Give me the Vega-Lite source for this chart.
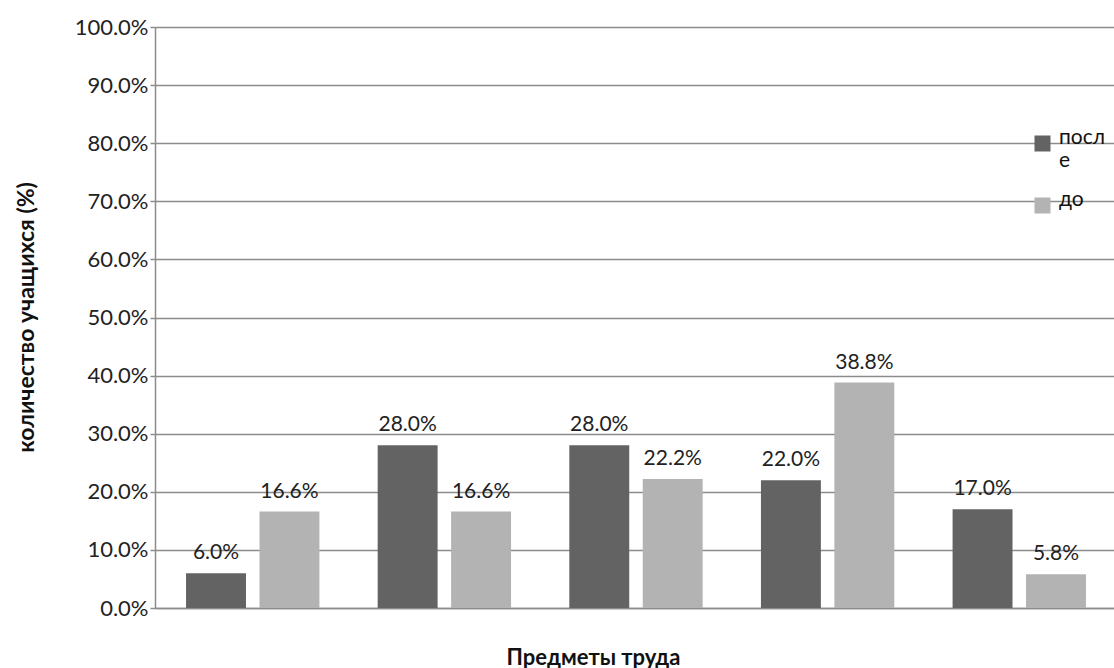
{
  "$schema": "https://vega.github.io/schema/vega-lite/v6.json",
  "autosize": {"type": "none"},
  "width": 962,
  "height": 581,
  "padding": {"left": 155, "top": 27, "right": 0, "bottom": 60},
  "background": "white",
  "config": {
    "font": "Lato",
    "view": {"stroke": null},
    "axis": {"labelFont": "Lato", "titleFont": "Lato"}
  },
  "data": {
    "values": [
      {"group": "1", "series": "после", "value": 0.06},
      {"group": "1", "series": "до", "value": 0.166},
      {"group": "2", "series": "после", "value": 0.28},
      {"group": "2", "series": "до", "value": 0.166},
      {"group": "3", "series": "после", "value": 0.28},
      {"group": "3", "series": "до", "value": 0.222},
      {"group": "4", "series": "после", "value": 0.22},
      {"group": "4", "series": "до", "value": 0.388},
      {"group": "5", "series": "после", "value": 0.17},
      {"group": "5", "series": "до", "value": 0.058}
    ]
  },
  "encoding": {
    "x": {
      "field": "group", "type": "nominal",
      "scale": {"paddingInner": 0.304, "paddingOuter": 0.162},
      "axis": {
        "title": "Предметы труда",
        "titleFontSize": 22, "titleFontWeight": "bold", "titleColor": "#111",
        "titleX": 438, "titleY": 49, "titleBaseline": "middle",
        "labels": false, "ticks": false,
        "domainColor": "#8c8c8c", "domainWidth": 1.5
      }
    },
    "xOffset": {
      "field": "series", "type": "nominal",
      "sort": ["после", "до"],
      "scale": {"paddingInner": 0.184, "paddingOuter": 0}
    },
    "y": {
      "field": "value", "type": "quantitative",
      "scale": {"domain": [0, 1]},
      "axis": {
        "title": "количество учащихся (%)",
        "titleFontSize": 23, "titleFontWeight": "bold", "titleColor": "#111",
        "titleX": -129, "titleY": 290, "titleAngle": -90, "titleBaseline": "middle", "titleAlign": "center",
        "format": ".1%",
        "values": [0, 0.1, 0.2, 0.3, 0.4, 0.5, 0.6, 0.7, 0.8, 0.9, 1.0],
        "labelFontSize": 22, "labelColor": "#222", "labelPadding": 2,
        "tickSize": 5, "tickColor": "#8c8c8c", "tickWidth": 1.5,
        "domainColor": "#8c8c8c", "domainWidth": 1.5,
        "grid": true, "gridColor": "#8c8c8c", "gridWidth": 1.5
      }
    }
  },
  "layer": [
    {
      "mark": {"type": "bar"},
      "encoding": {
        "color": {
          "field": "series", "type": "nominal",
          "sort": ["после", "до"],
          "scale": {"domain": ["после", "до"], "range": ["#636363", "#b3b3b3"]},
          "legend": {
            "title": null,
            "orient": "none",
            "legendX": 877,
            "legendY": 106,
            "symbolType": "square",
            "symbolSize": 256,
            "symbolStrokeWidth": 0,
            "labelFontSize": 21,
            "labelColor": "#111",
            "labelBaseline": "alphabetic",
            "labelOffset": 6,
            "labelExpr": "datum.label == 'после' ? ['посл', 'е'] : datum.label",
            "rowPadding": 17
          }
        }
      }
    },
    {
      "mark": {"type": "text", "dy": -20, "fontSize": 21, "color": "#222", "font": "Lato"},
      "encoding": {
        "text": {"field": "value", "type": "quantitative", "format": ".1%"}
      }
    }
  ]
}
